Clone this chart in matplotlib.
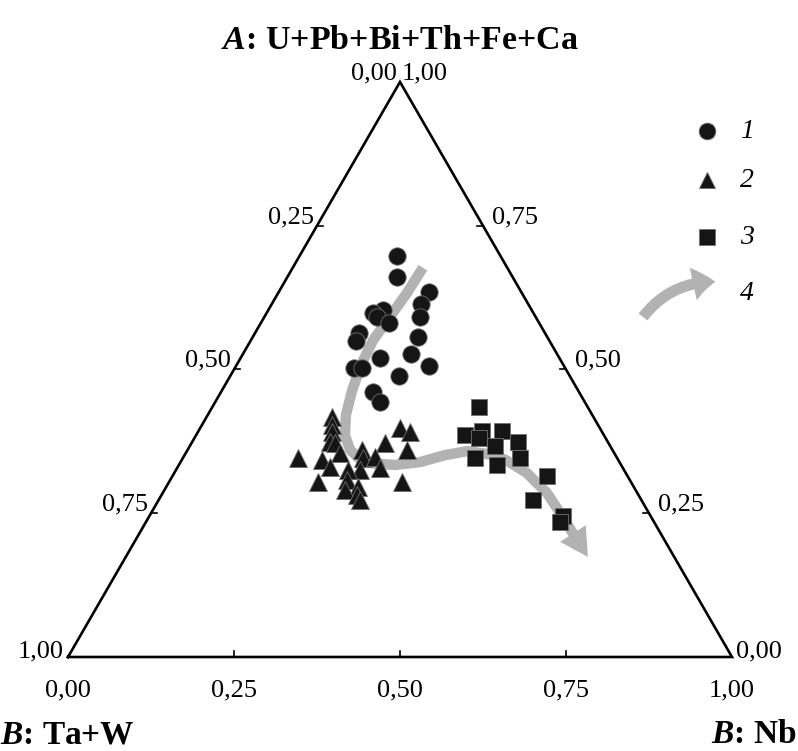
import numpy as np
import matplotlib.pyplot as plt

plt.rcParams['font.family'] = 'Liberation Serif'
plt.rcParams['mathtext.fontset'] = 'custom'
plt.rcParams['mathtext.rm'] = 'Liberation Serif'
plt.rcParams['mathtext.bfit'] = 'Liberation Serif:italic:bold'

# fractions: A (top vertex) and Nb (right vertex)
a_1 = [0.697, 0.661, 0.635, 0.614, 0.603, 0.598, 0.591, 0.581, 0.591, 0.564,
       0.550, 0.557, 0.527, 0.520, 0.506, 0.503, 0.503, 0.489, 0.461, 0.443]
nb_1 = [0.147, 0.165, 0.226, 0.225, 0.173, 0.160, 0.170, 0.193, 0.235, 0.157,
        0.159, 0.249, 0.253, 0.210, 0.291, 0.179, 0.192, 0.254, 0.229, 0.248]

a_2 = [0.417, 0.404, 0.391, 0.374, 0.372, 0.355, 0.346, 0.343, 0.330, 0.360,
       0.346, 0.372, 0.348, 0.398, 0.391, 0.360, 0.329, 0.325, 0.325, 0.308,
       0.304, 0.296, 0.290, 0.282, 0.273, 0.304]
nb_2 = [0.189, 0.196, 0.202, 0.208, 0.216, 0.232, 0.173, 0.211, 0.229, 0.263,
        0.271, 0.291, 0.288, 0.301, 0.319, 0.331, 0.306, 0.277, 0.259, 0.266,
        0.224, 0.289, 0.272, 0.294, 0.303, 0.351]

a_3 = [0.435, 0.386, 0.393, 0.393, 0.381, 0.367, 0.374, 0.346, 0.334, 0.346,
       0.315, 0.273, 0.245, 0.235]
nb_3 = [0.402, 0.405, 0.427, 0.457, 0.429, 0.460, 0.491, 0.440, 0.479, 0.508,
        0.564, 0.564, 0.623, 0.624]

# trend (4), last point is the arrow tip
trend_a = [0.677, 0.633, 0.591, 0.551, 0.511, 0.464, 0.421, 0.386, 0.360, 0.343,
           0.336, 0.334, 0.339, 0.351, 0.358, 0.353, 0.343, 0.320, 0.285, 0.243,
           0.209, 0.174]
trend_nb = [0.196, 0.194, 0.189, 0.184, 0.187, 0.196, 0.208, 0.224, 0.245, 0.269,
            0.295, 0.326, 0.361, 0.392, 0.422, 0.455, 0.487, 0.531, 0.579, 0.624,
            0.659, 0.696]

ticks = [0.25, 0.50, 0.75]
tick_text = ['0,25', '0,50', '0,75']
legend_labels = ['1', '2', '3', '4']

H = np.sqrt(3) / 2


def xy(a, nb):
    a = np.asarray(a, dtype=float)
    nb = np.asarray(nb, dtype=float)
    return nb + a / 2, a * H


fig = plt.figure(figsize=(7.98, 7.51), dpi=100)
ax = fig.add_axes([0, 0, 1, 1])
ax.set_xlim(-68 / 664, 730 / 664)
ax.set_ylim(-94 / 664, 657 / 664)
ax.axis('off')

# triangle frame
ax.plot([0, 1, 0.5, 0], [0, 0, H, 0], color='black', lw=1.9, solid_joinstyle='miter', zorder=3)

fs = 19
tl = 0.009
for t, s in zip(ticks, tick_text):
    # bottom
    ax.plot([t, t], [0, tl], color='black', lw=1.2)
    ax.text(t, -0.05, s, ha='center', va='center', fontsize=fs)
    # left (Ta+W, 0 at top)
    x, y = xy(1 - t, 0)
    ax.plot([x, x + tl], [y, y], color='black', lw=1.2)
    ax.text(x - 0.005, y + 0.013, s, ha='right', va='center', fontsize=fs)
    # right (A, 0 at bottom right)
    x, y = xy(t, 1 - t)
    ax.plot([x, x - tl], [y, y], color='black', lw=1.2)
    ax.text(x + 0.014, y + 0.013, s, ha='left', va='center', fontsize=fs)

ax.text(-0.006, 0.008, '1,00', ha='right', va='center', fontsize=fs)
ax.text(1.006, 0.008, '0,00', ha='left', va='center', fontsize=fs)
ax.text(0.0, -0.05, '0,00', ha='center', va='center', fontsize=fs)
ax.text(1.0, -0.05, '1,00', ha='center', va='center', fontsize=fs)
ax.text(0.4955, 0.870, '0,00', ha='right', va='baseline', fontsize=fs)
ax.text(0.5025, 0.870, '1,00', ha='left', va='baseline', fontsize=fs)

ax.text(0.5, 0.915, r'$\mathbfit{A}$: U+Pb+Bi+Th+Fe+Ca', ha='center', va='baseline',
        fontsize=24.5, fontweight='bold')
ax.text(-0.102, -0.117, r'$\mathbfit{B}$: Ta+W', ha='left', va='center', fontsize=24, fontweight='bold')
ax.text(1.097, -0.117, r'$\mathbfit{B}$: Nb', ha='right', va='center', fontsize=24, fontweight='bold')

# trend arrow
gray = '#b2b2b2'
tx, ty = xy(trend_a, trend_nb)
ax.plot(tx[:-1], ty[:-1], color=gray, lw=7.5, solid_capstyle='butt', solid_joinstyle='round', zorder=2)
ax.annotate('', xy=(tx[-1], ty[-1]), xytext=(tx[-2], ty[-2]),
            arrowprops=dict(arrowstyle='-|>,head_length=20,head_width=11', mutation_scale=1,
                            color=gray, lw=0, shrinkA=0, shrinkB=0), zorder=2)

# data points
mk = dict(color='#151515', markeredgecolor='#6f6f6f', markeredgewidth=0.6, linestyle='none', zorder=4)
x1, y1 = xy(a_1, nb_1)
ax.plot(x1, y1, marker='o', markersize=12.5, **mk)
x2, y2 = xy(a_2, nb_2)
ax.plot(x2, y2, marker='^', markersize=12.5, **mk)
x3, y3 = xy(a_3, nb_3)
ax.plot(x3, y3, marker='s', markersize=11, **mk)

# legend
lx, ltx = 0.962, 1.012
ly = [0.792, 0.718, 0.6325, 0.548]
for m, yy, lab in zip(['o', '^', 's'], ly[:3], legend_labels[:3]):
    ax.plot([lx], [yy], marker=m, markersize=12 if m != 's' else 11, **mk)
    ax.text(ltx, yy, lab, ha='left', va='center', fontsize=20, style='italic')
ax.annotate('', xy=(0.975, 0.565), xytext=(0.866, 0.512),
            arrowprops=dict(arrowstyle='simple,head_length=1.6,head_width=2.4,tail_width=0.8',
                            mutation_scale=10, color=gray, lw=0, shrinkA=0, shrinkB=0,
                            connectionstyle='arc3,rad=-0.25'))
ax.text(ltx, ly[3], legend_labels[3], ha='left', va='center', fontsize=20, style='italic')

fig.savefig('out.png', dpi=100)
